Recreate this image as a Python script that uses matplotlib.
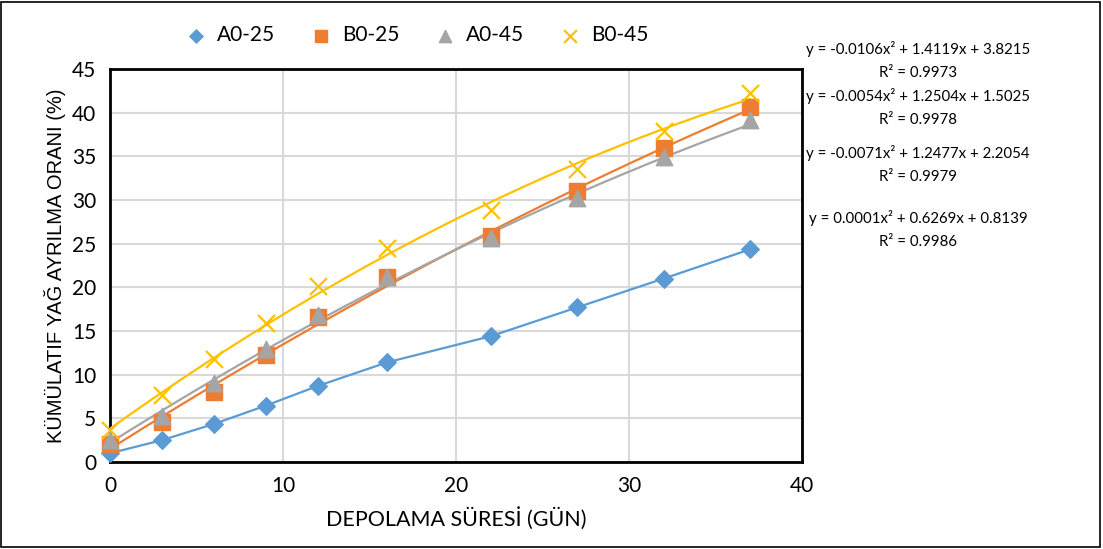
import numpy as np
import matplotlib.pyplot as plt
from matplotlib.patches import Rectangle

# storage days
days = [0, 3, 6, 9, 12, 16, 22, 27, 32, 37]

a0_25 = [1.0, 2.5, 4.35, 6.45, 8.7, 11.4, 14.4, 17.7, 21.0, 24.35]
b0_25 = [2.1, 4.6, 8.05, 12.25, 16.65, 21.15, 25.9, 31.0, 35.9, 40.7]
a0_45 = [2.5, 5.3, 9.1, 12.9, 16.8, 21.2, 25.6, 30.2, 34.9, 39.2]
b0_45 = [3.65, 7.7, 11.8, 15.95, 20.2, 24.5, 28.9, 33.5, 37.9, 42.3]

# trendline coefficients (x^2, x, const) and R^2, as printed on the chart
coef_b0_45 = [-0.0106, 1.4119, 3.8215]
coef_b0_25 = [-0.0054, 1.2504, 1.5025]
coef_a0_45 = [-0.0071, 1.2477, 2.2054]
coef_a0_25 = [0.0001, 0.6269, 0.8139]
r2 = [0.9973, 0.9978, 0.9979, 0.9986]

blue, orange, gray, yellow = '#5B9BD5', '#ED7D31', '#A5A5A5', '#FFC000'
fnt = 'Lato'

fig = plt.figure(figsize=(11.03, 5.49), dpi=100)
ax = fig.add_axes([110 / 1103, 1 - 462 / 549, 692 / 1103, 393 / 549])

xx = np.linspace(0, 37, 200)
ax.plot(days, a0_25, color=blue, lw=1.6, zorder=3)
ax.plot(xx, np.polyval(coef_b0_25, xx), color=orange, lw=1.6, zorder=3)
ax.plot(xx, np.polyval(coef_a0_45, xx), color=gray, lw=1.6, zorder=3)
ax.plot(xx, np.polyval(coef_b0_45, xx), color=yellow, lw=1.6, zorder=3)

ax.scatter(days, a0_25, marker='D', s=80, color=blue, zorder=4, label='A0-25', clip_on=False)
ax.scatter(days, b0_25, marker='s', s=140, color=orange, zorder=4, label='B0-25', clip_on=False)
ax.scatter(days, a0_45, marker='^', s=140, color=gray, zorder=5, label='A0-45', clip_on=False)
ax.scatter(days, b0_45, marker='x', s=150, color=yellow, lw=1.6, zorder=6, label='B0-45', clip_on=False)

ax.set_xlim(0, 40)
ax.set_ylim(0, 45)
ax.set_xticks(range(0, 41, 10))
ax.set_yticks(range(0, 46, 5))
ax.grid(True, color='#D9D9D9', lw=1.5)
ax.set_axisbelow(True)
for s in ax.spines.values():
    s.set_color('black')
    s.set_linewidth(2)
ax.tick_params(length=0, labelsize=15, pad=10)
for t in ax.get_xticklabels() + ax.get_yticklabels():
    t.set_fontfamily(fnt)

ax.set_xlabel('DEPOLAMA SÜRESİ (GÜN)', fontsize=15.5, fontfamily=fnt, labelpad=8)
ax.set_ylabel('KÜMÜLATIF YAĞ AYRILMA ORANI (%)', fontsize=14.5,
              fontfamily='Liberation Sans', labelpad=4)

ax.legend(loc='center left', bbox_to_anchor=(55 / 692, 1 + 34 / 393), ncol=4,
          frameon=False, prop={'family': fnt, 'size': 15}, handletextpad=0.0,
          columnspacing=1.2, markerscale=0.75, borderpad=0)

def eq_text(c):
    s = 'y = {:.4f}x² + {:.4f}x + {:.4f}'.format(c[0], c[1], c[2])
    return s

eq_list = [coef_b0_45, coef_b0_25, coef_a0_45, coef_a0_25]
eq_y = [49, 96, 153, 218]
for c, r, yp in zip(eq_list, r2, eq_y):
    fig.text(918 / 1103, 1 - yp / 549, eq_text(c), ha='center', va='center',
             fontsize=10.8, fontfamily=fnt)
    fig.text(918 / 1103, 1 - (yp + 24) / 549, 'R² = {:.4f}'.format(r),
             ha='center', va='center', fontsize=10.8, fontfamily=fnt)

fig.patches.append(Rectangle((1 / 1103, 2 / 549), 1099 / 1103, 545 / 549,
                             transform=fig.transFigure, fill=False,
                             edgecolor='black', lw=1.2))

fig.savefig('out.png', dpi=100)
